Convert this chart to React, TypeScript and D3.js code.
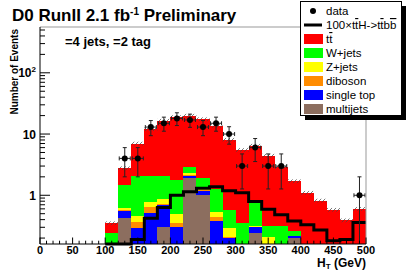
import * as d3 from 'd3';
import { useEffect, useRef } from 'react';

// lower bin edges (GeV), 20 GeV bins
const binLow = [100, 120, 140, 160, 180, 200, 220, 240, 260, 280, 300, 320, 340, 360, 380, 400, 420, 440, 460, 480];
const binWidth = 20;

// expected events per bin, stacked bottom -> top
const multijets = [0, 0.42, 0, 0, 0.3, 0, 1.95, 1.0, 0, 0, 0, 0.245, 0, 0, 0.2, 0, 0, 0, 0, 0];
const singleTop = [0.02, 0.13, 0.29, 0.52, 0.39, 0.3, 0.15, 0.16, 0.38, 0.2, 0, 0.055, 0, 0, 0.016, 0, 0, 0, 0, 0];
const diboson = [0.01, 0.03, 0.07, 0.13, 0.03, 0.05, 0.05, 0.04, 0.055, 0.01, 0, 0.005, 0, 0, 0.002, 0, 0, 0, 0, 0];
const zJets = [0.03, 0.03, 0.1, 0.13, 0.16, 0.14, 0.15, 0.08, 0.105, 0.08, 0, 0.005, 0.21, 0, 0.002, 0, 0, 0, 0, 0];
const wJets = [0.18, 0.84, 1.57, 1.25, 1.15, 1.26, 0.65, 0.62, 0.74, 0.28, 0.35, 0.43, 0.1, 0.32, 0.04, 0, 0, 0, 0, 0];
const ttbar = [0.11, 1.32, 4.97, 10.0, 14.5, 17.2, 17.0, 15.6, 12.3, 7.5, 5.15, 5.71, 4.13, 2.57, 1.44, 1.1, 0.82, 0.58, 0.39, 0.6];

// 100 x ttH signal
const ttH100 = [0.1, 0.12, 0.19, 0.42, 0.63, 1.0, 1.14, 1.3, 1.38, 1.19, 1.1, 0.79, 0.59, 0.48, 0.38, 0.33, 0.27, 0.18, 0.19, 0.36];

// observed events
const dataCounts = [0, 4, 4, 13, 15, 18, 17, 13, 15, 10, 3, 6, 3, 3, 0, 0, 0, 0, 0, 1];

const xTicks = [0, 50, 100, 150, 200, 250, 300, 350, 400, 450, 500];
const yTicks = [1, 10, 100];

const components = [
  { key: 'multijets', label: 'multijets', color: '#8c6e5f', values: multijets },
  { key: 'singletop', label: 'single top', color: '#0000ff', values: singleTop },
  { key: 'diboson', label: 'diboson', color: '#ff8c00', values: diboson },
  { key: 'zjets', label: 'Z+jets', color: '#ffff00', values: zJets },
  { key: 'wjets', label: 'W+jets', color: '#00ff00', values: wJets },
  { key: 'ttbar', label: 'tt', color: '#ff0000', values: ttbar },
];

const font = '"Liberation Sans", Arial, sans-serif';

const App = () => {
  const svgRef = useRef(null);

  useEffect(() => {
    const svg = d3.select(svgRef.current);
    svg.selectAll('*').remove();

    const left = 40, right = 366, top = 27, bottom = 244;
    const x = d3.scaleLinear().domain([0, 500]).range([left, right]);
    const y = d3.scaleLog().domain([0.16, 560]).range([bottom, top]).clamp(true);
    const yv = (v) => y(Math.max(v, 1e-4));
    const bw = x(binWidth) - x(0);

    const table = binLow.map((lo, i) => {
      const row = { lo };
      components.forEach(c => { row[c.key] = c.values[i]; });
      return row;
    });
    const stack = d3.stack().keys(components.map(c => c.key))(table);

    const defs = svg.append('defs');
    const pat = defs.append('pattern')
      .attr('id', 'hatch')
      .attr('patternUnits', 'userSpaceOnUse')
      .attr('width', 4)
      .attr('height', 4);
    pat.append('path')
      .attr('d', 'M-1,1 l2,-2 M0,4 l4,-4 M3,5 l2,-2')
      .attr('stroke', '#444')
      .attr('stroke-width', 0.7);

    svg.append('rect').attr('width', 407).attr('height', 271).attr('fill', 'white');

    // stacked backgrounds
    stack.forEach((layer, li) => {
      svg.append('g')
        .selectAll('rect')
        .data(layer)
        .enter()
        .append('rect')
        .attr('x', d => x(d.data.lo))
        .attr('width', bw)
        .attr('y', d => yv(d[1]))
        .attr('height', d => Math.max(0, yv(d[0]) - yv(d[1])))
        .attr('fill', components[li].color)
        .attr('shape-rendering', 'crispEdges');
    });

    // uncertainty hatch on the total
    const totals = binLow.map((_, i) => components.reduce((s, c) => s + c.values[i], 0));
    svg.append('g')
      .selectAll('rect')
      .data(totals)
      .enter()
      .append('rect')
      .attr('x', (d, i) => x(binLow[i]))
      .attr('width', bw)
      .attr('y', d => yv(d * 1.07))
      .attr('height', d => yv(d * 0.93) - yv(d * 1.07))
      .attr('fill', 'url(#hatch)');

    // 100 x ttH line
    const steps = [];
    binLow.forEach((lo, i) => {
      steps.push([x(lo), yv(ttH100[i])]);
      steps.push([x(lo + binWidth), yv(ttH100[i])]);
    });
    svg.append('path')
      .attr('d', d3.line()(steps))
      .attr('fill', 'none')
      .attr('stroke', 'black')
      .attr('stroke-width', 3);

    // data points
    const pts = dataCounts
      .map((n, i) => ({ n, c: binLow[i] + binWidth / 2 }))
      .filter(d => d.n > 0);
    const g = svg.append('g').attr('stroke', '#222').attr('stroke-width', 1);
    pts.forEach(d => {
      const cx = x(d.c);
      const cy = yv(d.n);
      const hi = yv(d.n + Math.sqrt(d.n));
      const lo = yv(d.n - Math.sqrt(d.n));
      const hx0 = x(d.c - binWidth / 2) + 1;
      const hx1 = x(d.c + binWidth / 2) - 1;
      g.append('line').attr('x1', cx).attr('x2', cx).attr('y1', hi).attr('y2', lo);
      g.append('line').attr('x1', cx - 2).attr('x2', cx + 2).attr('y1', hi).attr('y2', hi);
      if (d.n - Math.sqrt(d.n) > 0.16) {
        g.append('line').attr('x1', cx - 2).attr('x2', cx + 2).attr('y1', lo).attr('y2', lo);
      }
      g.append('line').attr('x1', hx0).attr('x2', hx1).attr('y1', cy).attr('y2', cy);
      g.append('line').attr('x1', hx0).attr('x2', hx0).attr('y1', cy - 2).attr('y2', cy + 2);
      g.append('line').attr('x1', hx1).attr('x2', hx1).attr('y1', cy - 2).attr('y2', cy + 2);
      svg.append('circle').attr('cx', cx).attr('cy', cy).attr('r', 3).attr('fill', 'black');
    });

    // frame
    svg.append('line').attr('x1', left).attr('x2', right).attr('y1', top).attr('y2', top)
      .attr('stroke', '#999');
    svg.append('line').attr('x1', right).attr('x2', right).attr('y1', top).attr('y2', bottom)
      .attr('stroke', '#999');

    // x axis
    const xAxis = svg.append('g').attr('transform', `translate(0, ${bottom})`);
    xAxis.append('line').attr('x1', left).attr('x2', right).attr('stroke', 'black');
    d3.range(0, 501, 10).forEach(v => {
      const major = v % 50 === 0;
      xAxis.append('line')
        .attr('x1', x(v)).attr('x2', x(v))
        .attr('y1', 0).attr('y2', major ? -6.5 : -3.3)
        .attr('stroke', 'black');
    });
    xAxis.selectAll('text.tick')
      .data(xTicks)
      .enter()
      .append('text')
      .attr('x', d => x(d))
      .attr('y', 9.5)
      .attr('text-anchor', 'middle')
      .style('font', `bold 11px ${font}`)
      .text(d => d);
    const xt = svg.append('text')
      .attr('x', right)
      .attr('y', 267)
      .attr('text-anchor', 'end')
      .style('font', `bold 12px ${font}`);
    xt.append('tspan').text('H');
    xt.append('tspan').attr('dy', 2).style('font-size', '8px').text('T');
    xt.append('tspan').attr('dy', -2).text(' (GeV)');

    // y axis
    const yAxis = svg.append('g').attr('transform', `translate(${left}, 0)`);
    yAxis.append('line').attr('y1', top).attr('y2', bottom).attr('stroke', 'black');
    const minor = [];
    [0.1, 1, 10, 100].forEach(dec => {
      d3.range(1, 10).forEach(k => {
        const v = dec * k;
        if (v >= 0.16 && v <= 560) minor.push({ v, major: k === 1 });
      });
    });
    minor.forEach(t => {
      yAxis.append('line')
        .attr('x1', 0).attr('x2', t.major ? 10 : 5)
        .attr('y1', y(t.v)).attr('y2', y(t.v))
        .attr('stroke', 'black');
    });
    yTicks.forEach(v => {
      const t = yAxis.append('text')
        .attr('x', -4)
        .attr('y', y(v) + 4.5)
        .attr('text-anchor', 'end')
        .style('font', `bold 12px ${font}`);
      if (v === 100) {
        t.append('tspan').text('10');
        t.append('tspan').attr('dy', -5).style('font-size', '8px').text('2');
      } else {
        t.text(v);
      }
    });
    svg.append('text')
      .attr('transform', `translate(18, ${top + 2}) rotate(-90)`)
      .attr('text-anchor', 'end')
      .style('font', `bold 10px ${font}`)
      .text('Number of Events');

    // title
    const title = svg.append('text')
      .attr('x', 12)
      .attr('y', 21)
      .style('font', `bold 17px ${font}`);
    title.append('tspan').text('D0 RunII 2.1 fb');
    title.append('tspan').attr('dy', -6).style('font-size', '10px').text('-1');
    title.append('tspan').attr('dy', 6).text(' Preliminary');

    svg.append('text')
      .attr('x', 65)
      .attr('y', 46)
      .style('font', `bold 13px ${font}`)
      .text('=4 jets, =2 tag');

    // legend
    const lg = svg.append('g');
    lg.append('rect').attr('x', 305).attr('y', 6).attr('width', 101).attr('height', 114).attr('fill', 'black');
    lg.append('rect').attr('x', 300.5).attr('y', 1.5).attr('width', 101).attr('height', 114)
      .attr('fill', 'white').attr('stroke', 'black');
    const rowY = (i) => 11 + i * 14;
    const tx = 326;
    const ltext = (i) => lg.append('text')
      .attr('x', tx)
      .attr('y', rowY(i) + 4)
      .style('font', `11.5px ${font}`);
    const over = (t, s) => t.append('tspan').style('text-decoration', 'overline').text(s);

    lg.append('circle').attr('cx', 313).attr('cy', rowY(0)).attr('r', 3).attr('fill', 'black');
    ltext(0).text('data');

    lg.append('line').attr('x1', 304).attr('x2', 322).attr('y1', rowY(1)).attr('y2', rowY(1))
      .attr('stroke', 'black').attr('stroke-width', 3);
    const t1 = ltext(1);
    t1.append('tspan').text('100\u00d7t');
    over(t1, 't');
    t1.append('tspan').text('H->t');
    over(t1, 't');
    t1.append('tspan').text('b');
    over(t1, 'b');

    const order = [...components].reverse();
    order.forEach((c, k) => {
      const i = k + 2;
      lg.append('rect').attr('x', 304).attr('y', rowY(i) - 5).attr('width', 19).attr('height', 10)
        .attr('fill', c.color);
      const t = ltext(i);
      if (c.key === 'ttbar') {
        t.append('tspan').text('t');
        over(t, 't');
      } else {
        t.text(c.label);
      }
    });
  }, []);

  return (
    <svg ref={svgRef} width={407} height={271} style={{ position: 'absolute', left: 0, top: 0 }}></svg>
  );
};

export default App;
